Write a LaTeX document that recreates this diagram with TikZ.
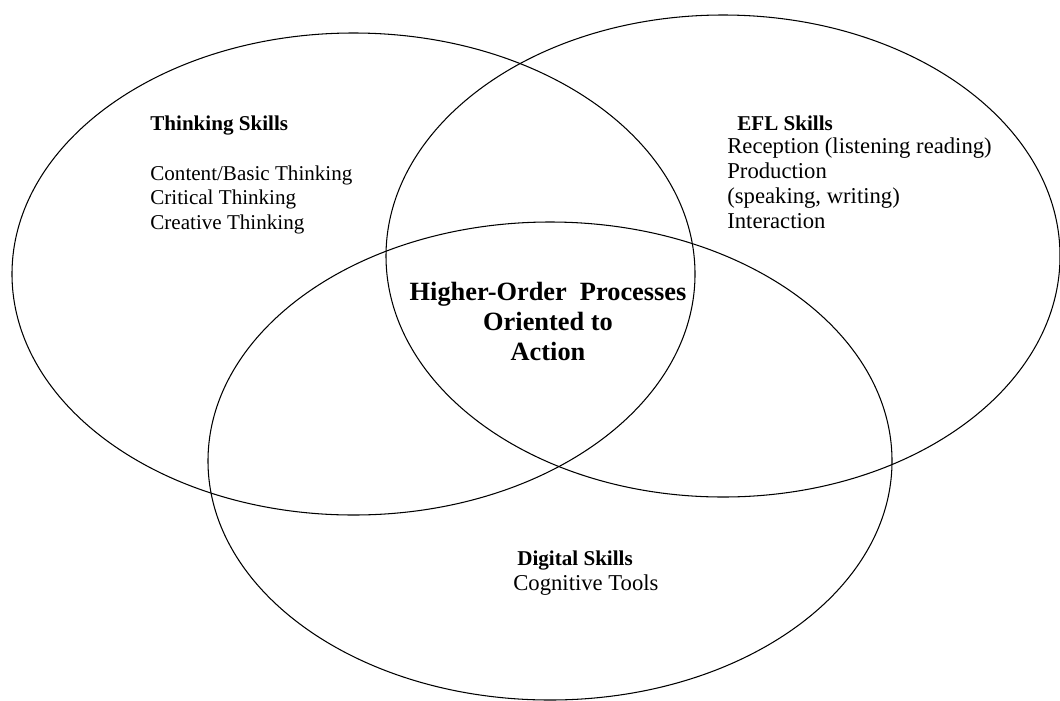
\documentclass[tikz,border=0pt]{standalone}
\usepackage{fontspec}
\setmainfont{Liberation Serif}
\usetikzlibrary{positioning}
\tikzset{
  skillset/.style={line width=0.6pt},
  headtext/.style={anchor=base west, inner sep=0pt, font=\fontsize{12}{13.7}\selectfont\bfseries},
  listtext/.style={anchor=base west, inner sep=0pt, align=left, font=\fontsize{12}{13.7}\selectfont},
}

\begin{document}
\begin{tikzpicture}[x=0.02cm,y=-0.02cm]
  \useasboundingbox (0,0) rectangle (1060,700);
  % the three skill sets
  \draw[skillset] (353.5,274) ellipse [x radius=341.5, y radius=241];
  \draw[skillset] (723,256) ellipse [x radius=337, y radius=241];
  \draw[skillset] (550,461) ellipse [x radius=342, y radius=239];
  % thinking (base = last line)
  \node[headtext] (thinkhead) at (150,130) {Thinking Skills};
  \node[listtext] (thinklist) at (150,229) {Content/Basic Thinking\\Critical Thinking\\Creative Thinking};
  % efl
  \node[headtext] (eflhead) at (737,130) {EFL Skills};
  \node[listtext, font=\fontsize{12.9}{14.2}\selectfont] (efllist) at (727,228)
    {Reception (listening reading)\\Production\\(speaking, writing)\\Interaction};
  % digital
  \node[headtext] (digitalhead) at (517,565) {Digital Skills};
  \node[listtext, font=\fontsize{12.9}{14.2}\selectfont] (digitallist) at (513,590) {Cognitive Tools};
  % centre
  \node[anchor=base, inner sep=0pt, align=center, font=\fontsize{15}{17}\selectfont\bfseries] (core) at (548,360)
    {Higher-Order~~Processes\\Oriented to\\Action};
\end{tikzpicture}
\end{document}
